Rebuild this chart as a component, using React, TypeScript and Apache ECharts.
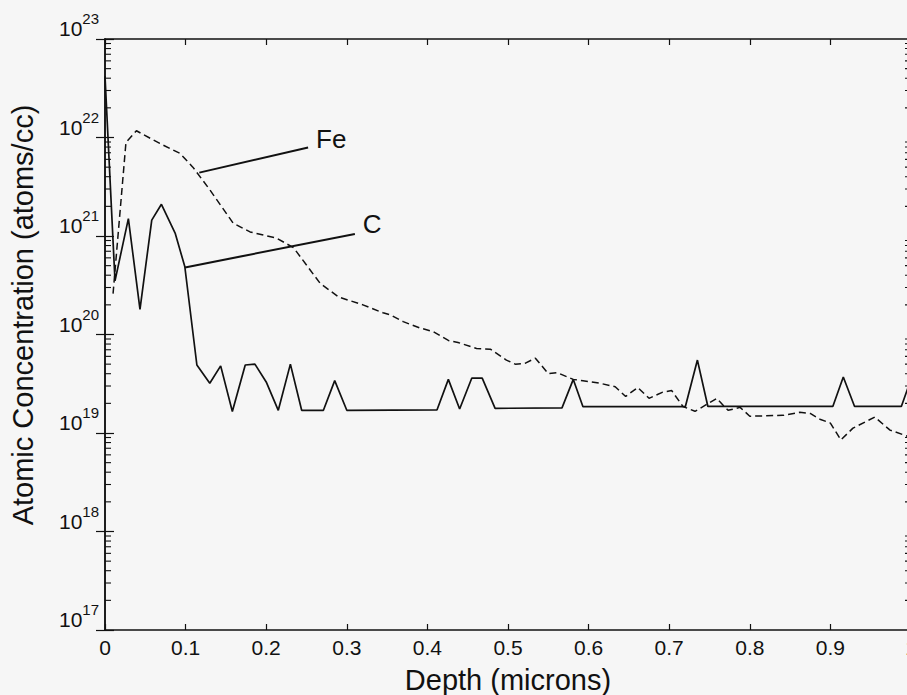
import React, { useEffect, useRef } from "react";
import * as echarts from "echarts";

// ---- Data ----
const depthC = [0, 0.0124, 0.029, 0.0434, 0.058, 0.07, 0.087, 0.099, 0.114, 0.13, 0.1435, 0.158, 0.174, 0.186, 0.2, 0.215, 0.23, 0.244, 0.271, 0.285, 0.3, 0.412, 0.426, 0.44, 0.455, 0.468, 0.484, 0.567, 0.581, 0.593, 0.72, 0.735, 0.748, 0.903, 0.916, 0.93, 0.988, 1.0];
const concC = [4.2e22, 3.5e20, 1.5e21, 1.8e20, 1.45e21, 2.1e21, 1.07e21, 4.9e20, 4.9e19, 3.2e19, 4.8e19, 1.65e19, 4.9e19, 5.0e19, 3.3e19, 1.7e19, 5.0e19, 1.7e19, 1.7e19, 3.4e19, 1.7e19, 1.72e19, 3.5e19, 1.75e19, 3.6e19, 3.6e19, 1.78e19, 1.8e19, 3.5e19, 1.85e19, 1.85e19, 5.5e19, 1.86e19, 1.86e19, 3.7e19, 1.86e19, 1.86e19, 3.5e19];

const depthFe = [0.01, 0.026, 0.039, 0.068, 0.093, 0.109, 0.13, 0.159, 0.18, 0.213, 0.234, 0.267, 0.29, 0.32, 0.345, 0.354, 0.37, 0.39, 0.407, 0.426, 0.438, 0.461, 0.478, 0.498, 0.509, 0.521, 0.534, 0.55, 0.561, 0.581, 0.593, 0.614, 0.633, 0.646, 0.661, 0.675, 0.692, 0.703, 0.717, 0.732, 0.759, 0.773, 0.788, 0.8, 0.841, 0.862, 0.875, 0.887, 0.9, 0.913, 0.928, 0.955, 0.974, 1.0];
const concFe = [2.6e20, 8.9e21, 1.17e22, 8.7e21, 6.9e21, 5.0e21, 2.95e21, 1.35e21, 1.1e21, 9.5e20, 7.6e20, 3.3e20, 2.4e20, 2.0e20, 1.66e20, 1.58e20, 1.35e20, 1.17e20, 1.07e20, 8.7e19, 8.3e19, 7.2e19, 7.1e19, 5.5e19, 5.0e19, 5.1e19, 5.75e19, 4.0e19, 4.1e19, 3.5e19, 3.4e19, 3.2e19, 2.95e19, 2.35e19, 2.9e19, 2.25e19, 2.6e19, 2.7e19, 1.86e19, 1.66e19, 2.24e19, 1.7e19, 1.82e19, 1.48e19, 1.51e19, 1.62e19, 1.58e19, 1.38e19, 1.26e19, 8.5e18, 1.12e19, 1.45e19, 1.07e19, 9.0e18];

// Annotation leader lines (data coordinates)
const feLeaderX = [0.117, 0.252];
const feLeaderY = [4.4e21, 7.9e21];
const cLeaderX = [0.0993, 0.31];
const cLeaderY = [4.8e20, 1.05e21];

const xTickLabels = ["0", "0.1", "0.2", "0.3", "0.4", "0.5", "0.6", "0.7", "0.8", "0.9", "1"];
const yDecades = [17, 18, 19, 20, 21, 22];
const minorMultipliers = [2, 3, 4, 5, 6, 7, 8, 9];

const zip = (xs: number[], ys: number[]) => xs.map((x, i) => [x, ys[i]]);

const FONT = '"Liberation Sans", Arial, sans-serif';
const INK = "#111";

export default function App() {
  const ref = useRef<HTMLDivElement>(null);
  useEffect(() => {
    if (!ref.current) return;
    const chart = echarts.init(ref.current, undefined, { renderer: "svg" });
    const minorTicks: number[][] = [];
    yDecades.forEach((d) => minorMultipliers.forEach((m) => minorTicks.push([0, m * Math.pow(10, d)])));

    const option: any = {
      animation: false,
      backgroundColor: "#f6f6f6",
      textStyle: { fontFamily: FONT },
      grid: { left: 105, right: -4, top: 39, bottom: 65, containLabel: false, outerBoundsMode: "none" },
      xAxis: [
        {
          type: "value",
          min: 0,
          max: 1,
          interval: 0.1,
          position: "bottom",
          name: "Depth (microns)",
          nameLocation: "middle",
          nameGap: 35,
          nameTextStyle: { fontSize: 29, color: INK, fontFamily: FONT, verticalAlign: "top" },
          axisLine: { show: true, lineStyle: { color: INK, width: 1.5 } },
          axisTick: { show: true, inside: true, length: 6, lineStyle: { color: INK, width: 1.2 } },
          axisLabel: {
            fontSize: 21,
            color: INK,
            fontFamily: FONT,
            margin: 7,
            formatter: (v: number) => xTickLabels[Math.round(v * 10)] ?? "",
          },
          splitLine: { show: false },
        },
        {
          type: "value",
          min: 0,
          max: 1,
          interval: 0.1,
          position: "top",
          axisLine: { show: true, lineStyle: { color: INK, width: 1.5 } },
          axisTick: { show: true, inside: true, length: 6, lineStyle: { color: INK, width: 1.2 } },
          axisLabel: { show: false },
          splitLine: { show: false },
        },
      ],
      yAxis: [
        {
          type: "log",
          logBase: 10,
          min: 1e17,
          max: 1e23,
          splitNumber: 6,
          position: "left",
          axisLine: { show: true, lineStyle: { color: INK, width: 1.5 } },
          axisTick: { show: true, inside: true, length: 9, lineStyle: { color: INK, width: 1.2 } },
          axisLabel: {
            showMinLabel: true,
            showMaxLabel: true,
            margin: 6,
            verticalAlign: "bottom",
            formatter: (v: number) => `{b|10}{s|${Math.round(Math.log10(v))}}`,
            rich: {
              b: { fontSize: 21, fontFamily: FONT, color: INK, lineHeight: 28, verticalAlign: "bottom" },
              s: { fontSize: 15, fontFamily: FONT, color: INK, lineHeight: 28, verticalAlign: "top" },
            },
          },
          splitLine: { show: false },
        },
        {
          type: "log",
          logBase: 10,
          min: 1e17,
          max: 1e23,
          splitNumber: 6,
          position: "right",
          axisLine: { show: true, lineStyle: { color: INK, width: 1.5 } },
          axisTick: { show: true, inside: true, length: 9, lineStyle: { color: INK, width: 1.2 } },
          axisLabel: { show: false },
          splitLine: { show: false },
        },
      ],
      graphic: [
        {
          type: "text",
          x: 23,
          y: 315,
          rotation: Math.PI / 2,
          style: {
            text: "Atomic Concentration (atoms/cc)",
            font: `29px ${FONT}`,
            fill: INK,
            align: "center",
            verticalAlign: "middle",
          },
        },
      ],
      series: [
        {
          type: "custom",
          name: "minorTicks",
          coordinateSystem: "cartesian2d",
          silent: true,
          data: minorTicks,
          renderItem: (params: any, api: any) => {
            const v = api.value(1);
            const l = api.coord([0, v]);
            const r = api.coord([1, v]);
            return {
              type: "group",
              children: [
                { type: "line", shape: { x1: l[0], y1: l[1], x2: l[0] + 6, y2: l[1] }, style: { stroke: INK, lineWidth: 1.1 } },
                { type: "line", shape: { x1: r[0] - 6, y1: r[1], x2: r[0], y2: r[1] }, style: { stroke: INK, lineWidth: 1.1 } },
              ],
            };
          },
        },
        {
          type: "line",
          name: "C",
          data: zip(depthC, concC),
          symbol: "none",
          lineStyle: { color: INK, width: 1.7, type: "solid" },
        },
        {
          type: "line",
          name: "Fe",
          data: zip(depthFe, concFe),
          symbol: "none",
          lineStyle: { color: INK, width: 1.5, type: [7, 4] },
        },
        {
          type: "line",
          name: "FeLabel",
          data: zip(feLeaderX, feLeaderY),
          symbol: "none",
          lineStyle: { color: INK, width: 2 },
          endLabel: {
            show: true,
            formatter: "Fe",
            fontSize: 26,
            fontFamily: FONT,
            color: INK,
            distance: 8,
            offset: [0, -9],
          },
        },
        {
          type: "line",
          name: "CLabel",
          data: zip(cLeaderX, cLeaderY),
          symbol: "none",
          lineStyle: { color: INK, width: 2 },
          endLabel: {
            show: true,
            formatter: "C",
            fontSize: 26,
            fontFamily: FONT,
            color: INK,
            distance: 8,
            offset: [0, -10],
          },
        },
      ],
    };
    chart.setOption(option);
    return () => chart.dispose();
  }, []);
  return (
    <div
      ref={ref}
      style={{ position: "fixed", left: 0, top: 0, width: 907, height: 695, background: "#f6f6f6" }}
    />
  );
}
